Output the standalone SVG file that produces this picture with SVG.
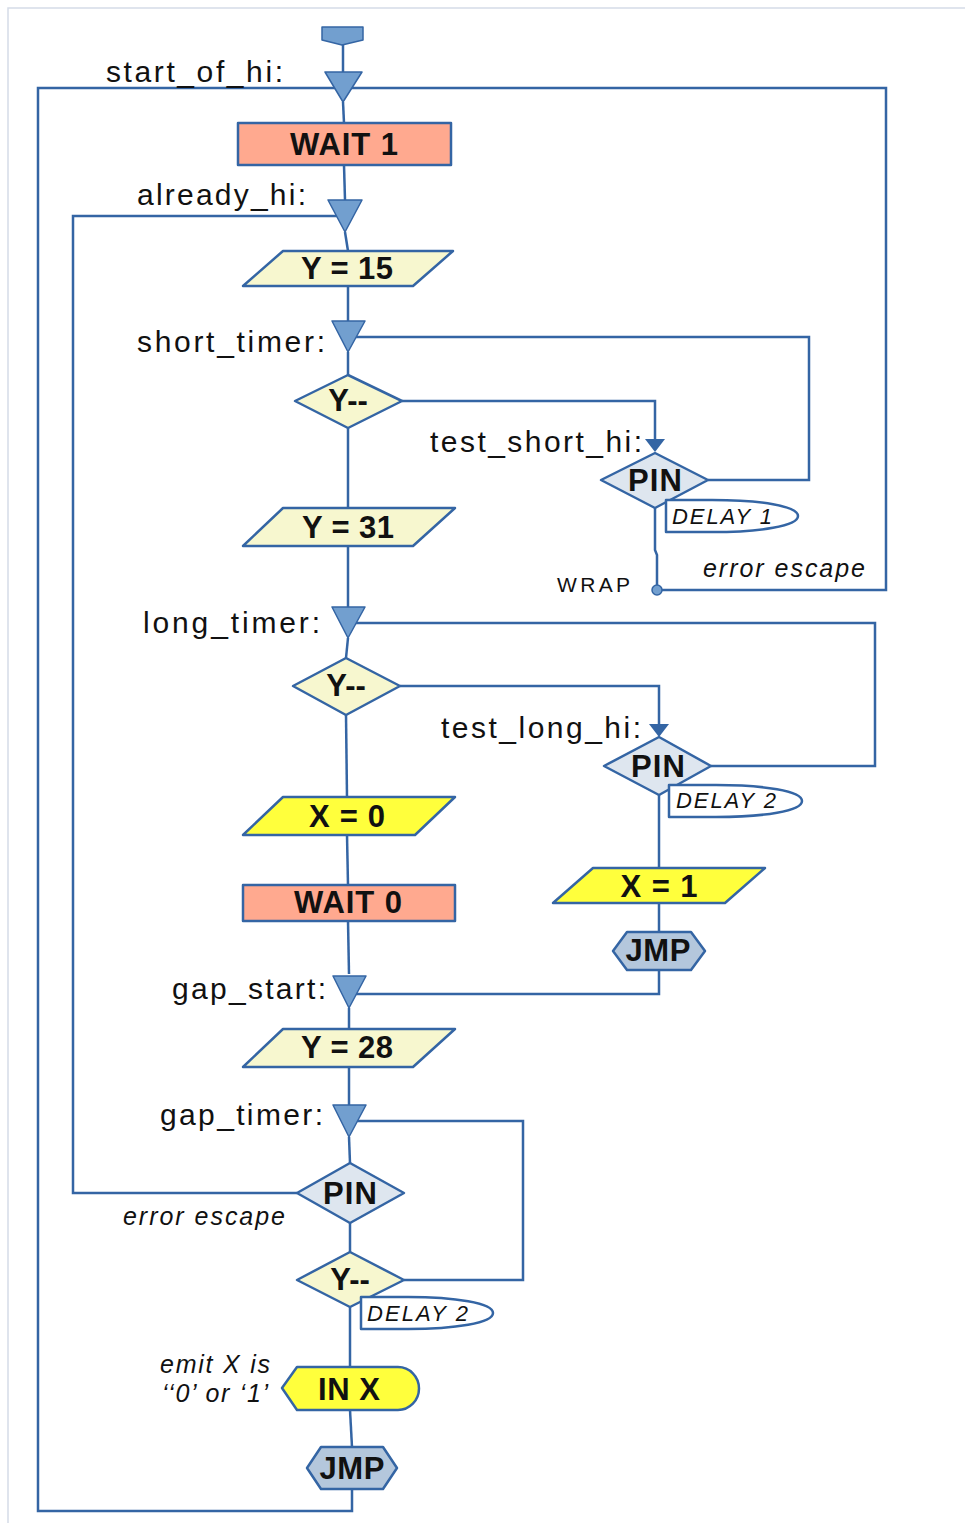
<svg xmlns="http://www.w3.org/2000/svg" width="965" height="1523" viewBox="0 0 965 1523">
<defs>
<style>
.ln{fill:none;stroke:#3465a4;stroke-width:2.5;stroke-linejoin:miter}
.sh{stroke:#3465a4;stroke-width:2.5;stroke-linejoin:round}
.tri{fill:#729fcf;stroke:#3465a4;stroke-width:1.5;stroke-linejoin:round}
.salmon{fill:#ffa98f}
.ly{fill:#f7f7cf}
.yel{fill:#ffff3c}
.pin{fill:#dee6ef}
.jmp{fill:#b4c7dc}
.lbl{font-family:"Liberation Sans",Arial,sans-serif;font-size:30px;fill:#111}
.nd{font-family:"Liberation Sans",Arial,sans-serif;font-size:31px;font-weight:bold;fill:#111;text-anchor:middle}
.it{font-family:"Liberation Sans",Arial,sans-serif;font-size:25px;font-style:italic;fill:#111}
.dl{font-family:"Liberation Sans",Arial,sans-serif;font-size:22px;font-style:italic;fill:#111}
.wr{font-family:"Liberation Sans",Arial,sans-serif;font-size:21px;fill:#111}
</style>
</defs>
<rect width="965" height="1523" fill="#ffffff"/>
<path d="M8,1523 V8 H965" fill="none" stroke="#d5dce8" stroke-width="1.5"/>

<g id="connectors">
<path class="ln" d="M343,45 V72"/>
<path class="ln" d="M343,102 L344,123"/>
<path class="ln" d="M344,165 L345,200"/>
<path class="ln" d="M345,232 L348,251"/>
<path class="ln" d="M348,286 V321"/>
<path class="ln" d="M348,352 V375"/>
<path class="ln" d="M348,428 V508"/>
<path class="ln" d="M348,546 V607"/>
<path class="ln" d="M348,638 L346,658"/>
<path class="ln" d="M346,715 L347,797"/>
<path class="ln" d="M347,835 L348,885"/>
<path class="ln" d="M348,921 L349,974"/>
<path class="ln" d="M349,1008 V1029"/>
<path class="ln" d="M349,1067 V1105"/>
<path class="ln" d="M349,1137 L350,1163"/>
<path class="ln" d="M350,1223 V1252"/>
<path class="ln" d="M350,1307 V1367"/>
<path class="ln" d="M350,1410 L352,1447"/>
<path class="ln" d="M352,1490 V1511 H38 V88 H886 V590 H657"/>
<path class="ln" d="M655,508 V550 L657,555 V590"/>
<circle cx="657" cy="590" r="5" fill="#729fcf" stroke="#3465a4" stroke-width="1.5"/>
<path class="ln" d="M402,401 H655 V441"/>
<path d="M645,439 L665,439 L655,452 Z" fill="#3465a4"/>
<path class="ln" d="M708,480 H809 V337 H348"/>
<path class="ln" d="M400,686 H659 V726"/>
<path d="M649,724 L669,724 L659,737 Z" fill="#3465a4"/>
<path class="ln" d="M711,766 H875 V623 H348"/>
<path class="ln" d="M659,795 V868"/>
<path class="ln" d="M659,903 V932"/>
<path class="ln" d="M659,970 V994 H349"/>
<path class="ln" d="M297,1193 H73 V216 H345"/>
<path class="ln" d="M404,1280 H523 V1121 H349"/>
</g>

<g id="start"><path class="tri" d="M322,27 H363 V40 L342,45 L322,40 Z" stroke-width="2"/></g>

<g id="m_start_of_hi"><path class="tri" d="M325,72 H362 L343,102 Z"/></g>
<g id="m_already_hi"><path class="tri" d="M328,200 H362 L345,232 Z"/></g>
<g id="m_short_timer"><path class="tri" d="M332,321 H365 L348,352 Z"/></g>
<g id="m_long_timer"><path class="tri" d="M332,607 H365 L348,638 Z"/></g>
<g id="m_gap_start"><path class="tri" d="M333,976 H366 L349,1008 Z"/></g>
<g id="m_gap_timer"><path class="tri" d="M333,1105 H366 L349,1137 Z"/></g>

<g id="lbl_start_of_hi"><text class="lbl" x="106" y="82" textLength="177" lengthAdjust="spacing">start_of_hi:</text></g>
<g id="lbl_already_hi"><text class="lbl" x="137" y="205" textLength="169" lengthAdjust="spacing">already_hi:</text></g>
<g id="lbl_short_timer"><text class="lbl" x="137" y="352" textLength="188" lengthAdjust="spacing">short_timer:</text></g>
<g id="lbl_test_short_hi"><text class="lbl" x="430" y="452" textLength="212" lengthAdjust="spacing">test_short_hi:</text></g>
<g id="lbl_long_timer"><text class="lbl" x="143" y="633" textLength="177" lengthAdjust="spacing">long_timer:</text></g>
<g id="lbl_test_long_hi"><text class="lbl" x="441" y="738" textLength="200" lengthAdjust="spacing">test_long_hi:</text></g>
<g id="lbl_gap_start"><text class="lbl" x="172" y="999" textLength="154" lengthAdjust="spacing">gap_start:</text></g>
<g id="lbl_gap_timer"><text class="lbl" x="160" y="1125" textLength="163" lengthAdjust="spacing">gap_timer:</text></g>
<g id="lbl_wrap"><text class="wr" x="557" y="592" textLength="73" lengthAdjust="spacing">WRAP</text></g>
<g id="lbl_err1"><text class="it" x="703" y="577" textLength="162" lengthAdjust="spacing">error escape</text></g>
<g id="lbl_err2"><text class="it" x="123" y="1225" textLength="162" lengthAdjust="spacing">error escape</text></g>
<g id="lbl_emit"><text class="it" x="160" y="1373" textLength="110" lengthAdjust="spacing">emit X is</text><text class="it" x="162" y="1402" textLength="106" lengthAdjust="spacing">‘‘0’ or ‘1’</text></g>

<g id="wait1"><rect class="sh salmon" x="238" y="123" width="213" height="42"/><text class="nd" x="344" y="155" textLength="108" lengthAdjust="spacing">WAIT 1</text></g>
<g id="y15"><path class="sh ly" d="M243,286 L283,251 H453 L413,286 Z"/><text class="nd" x="347" y="279" textLength="92" lengthAdjust="spacing">Y = 15</text></g>
<g id="ydec1"><path class="sh ly" d="M348,375 L402,401 L348,428 L295,401 Z"/><text class="nd" x="348" y="411">Y--</text></g>
<g id="pin1"><path class="sh pin" d="M655,453 L708,480 L655,508 L601,480 Z"/><text class="nd" x="655" y="491" textLength="54" lengthAdjust="spacing">PIN</text></g>
<g id="delay1"><path class="sh" fill="#ffffff" stroke-width="2" d="M666,500 H712 C760,500 798,506 798,516 C798,526 760,532 712,532 H666 Z"/><text class="dl" x="672" y="524" textLength="100" lengthAdjust="spacing">DELAY 1</text></g>
<g id="y31"><path class="sh ly" d="M243,546 L283,508 H455 L413,546 Z"/><text class="nd" x="348" y="538" textLength="92" lengthAdjust="spacing">Y = 31</text></g>
<g id="ydec2"><path class="sh ly" d="M346,658 L400,686 L346,715 L293,686 Z"/><text class="nd" x="346" y="696">Y--</text></g>
<g id="pin2"><path class="sh pin" d="M659,737 L711,766 L659,795 L604,766 Z"/><text class="nd" x="658" y="777" textLength="54" lengthAdjust="spacing">PIN</text></g>
<g id="delay2a"><path class="sh" fill="#ffffff" stroke-width="2" d="M669,785 H716 C764,785 802,791 802,801 C802,811 764,817 716,817 H669 Z"/><text class="dl" x="676" y="808" textLength="100" lengthAdjust="spacing">DELAY 2</text></g>
<g id="x0"><path class="sh yel" d="M243,835 L283,797 H455 L415,835 Z"/><text class="nd" x="347" y="827" textLength="76" lengthAdjust="spacing">X = 0</text></g>
<g id="wait0"><rect class="sh salmon" x="243" y="885" width="212" height="36"/><text class="nd" x="348" y="913" textLength="108" lengthAdjust="spacing">WAIT 0</text></g>
<g id="x1"><path class="sh yel" d="M553,903 L593,868 H765 L725,903 Z"/><text class="nd" x="659" y="897" textLength="77" lengthAdjust="spacing">X = 1</text></g>
<g id="jmp1"><path class="sh jmp" d="M613,951 L627,932 H691 L705,951 L691,970 H627 Z"/><text class="nd" x="658" y="961" textLength="65" lengthAdjust="spacing">JMP</text></g>
<g id="y28"><path class="sh ly" d="M243,1067 L283,1029 H455 L413,1067 Z"/><text class="nd" x="347" y="1058" textLength="92" lengthAdjust="spacing">Y = 28</text></g>
<g id="pin3"><path class="sh pin" d="M350,1163 L404,1193 L350,1223 L297,1193 Z"/><text class="nd" x="350" y="1204" textLength="54" lengthAdjust="spacing">PIN</text></g>
<g id="ydec3"><path class="sh ly" d="M350,1252 L404,1280 L350,1307 L297,1280 Z"/><text class="nd" x="350" y="1290">Y--</text></g>
<g id="delay2b"><path class="sh" fill="#ffffff" stroke-width="2" d="M361,1297 H408 C455,1297 493,1303 493,1313 C493,1323 455,1329 408,1329 H361 Z"/><text class="dl" x="367" y="1321" textLength="101" lengthAdjust="spacing">DELAY 2</text></g>
<g id="inx"><path class="sh yel" d="M282,1388 L297,1367 H398 A21,21.5 0 0 1 398,1410 H297 Z"/><text class="nd" x="349" y="1400" textLength="62" lengthAdjust="spacing">IN X</text></g>
<g id="jmp2"><path class="sh jmp" d="M307,1468 L321,1447 H383 L397,1468 L383,1489 H321 Z"/><text class="nd" x="352" y="1479" textLength="65" lengthAdjust="spacing">JMP</text></g>
</svg>
